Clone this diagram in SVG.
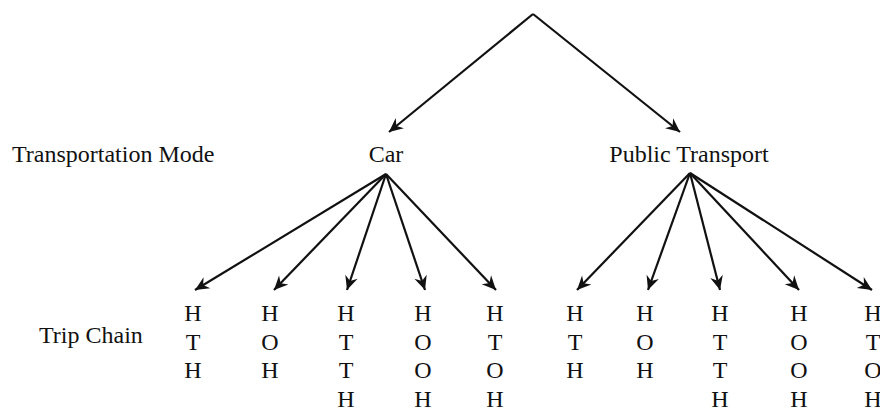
<svg xmlns="http://www.w3.org/2000/svg" width="880" height="411" viewBox="0 0 880 411">
<style>
text{font-family:"Liberation Serif","Times New Roman",serif;font-size:24px;fill:#111}
.c text{text-anchor:middle}
.e line{stroke:#111;stroke-width:2.2;fill:none;marker-end:url(#ah)}
</style>
<defs>
<marker id="ah" markerUnits="userSpaceOnUse" markerWidth="18" markerHeight="16" viewBox="-16 -8 18 16" refX="0" refY="0" orient="auto">
<path d="M0,0 L-14,-6.5 L-9.5,0 L-14,6.5 Z" fill="#111"/>
</marker>
</defs>
<rect width="880" height="411" fill="#fff"/>
<g id="connectors" class="e">
<line x1="533" y1="14" x2="389" y2="132"/>
<line x1="533" y1="14" x2="680" y2="132"/>
<line x1="386" y1="174" x2="195" y2="290"/>
<line x1="386" y1="174" x2="274" y2="290"/>
<line x1="386" y1="174" x2="347" y2="290"/>
<line x1="386" y1="174" x2="425" y2="290"/>
<line x1="386" y1="174" x2="496" y2="290"/>
<line x1="690" y1="173" x2="577" y2="290"/>
<line x1="690" y1="173" x2="648" y2="290"/>
<line x1="690" y1="173" x2="720" y2="290"/>
<line x1="690" y1="173" x2="799" y2="290"/>
<line x1="690" y1="173" x2="872" y2="290"/>
</g>
<g id="label-mode"><text x="12" y="162">Transportation Mode</text></g>
<g id="label-trip"><text x="39" y="343">Trip Chain</text></g>
<g id="car" class="c"><text x="386" y="162">Car</text></g>
<g id="public-transport" class="c"><text x="689" y="162">Public Transport</text></g>
<g id="car-1" class="c"><text x="193" y="321">H</text><text x="193" y="349.5">T</text><text x="193" y="378">H</text></g>
<g id="car-2" class="c"><text x="270" y="321">H</text><text x="270" y="349.5">O</text><text x="270" y="378">H</text></g>
<g id="car-3" class="c"><text x="346" y="321">H</text><text x="346" y="349.5">T</text><text x="346" y="378">T</text><text x="346" y="406.5">H</text></g>
<g id="car-4" class="c"><text x="423" y="321">H</text><text x="423" y="349.5">O</text><text x="423" y="378">O</text><text x="423" y="406.5">H</text></g>
<g id="car-5" class="c"><text x="495" y="321">H</text><text x="495" y="349.5">T</text><text x="495" y="378">O</text><text x="495" y="406.5">H</text></g>
<g id="pt-1" class="c"><text x="575" y="321">H</text><text x="575" y="349.5">T</text><text x="575" y="378">H</text></g>
<g id="pt-2" class="c"><text x="645" y="321">H</text><text x="645" y="349.5">O</text><text x="645" y="378">H</text></g>
<g id="pt-3" class="c"><text x="720" y="321">H</text><text x="720" y="349.5">T</text><text x="720" y="378">T</text><text x="720" y="406.5">H</text></g>
<g id="pt-4" class="c"><text x="799" y="321">H</text><text x="799" y="349.5">O</text><text x="799" y="378">O</text><text x="799" y="406.5">H</text></g>
<g id="pt-5" class="c"><text x="873" y="321">H</text><text x="873" y="349.5">T</text><text x="873" y="378">O</text><text x="873" y="406.5">H</text></g>
</svg>
